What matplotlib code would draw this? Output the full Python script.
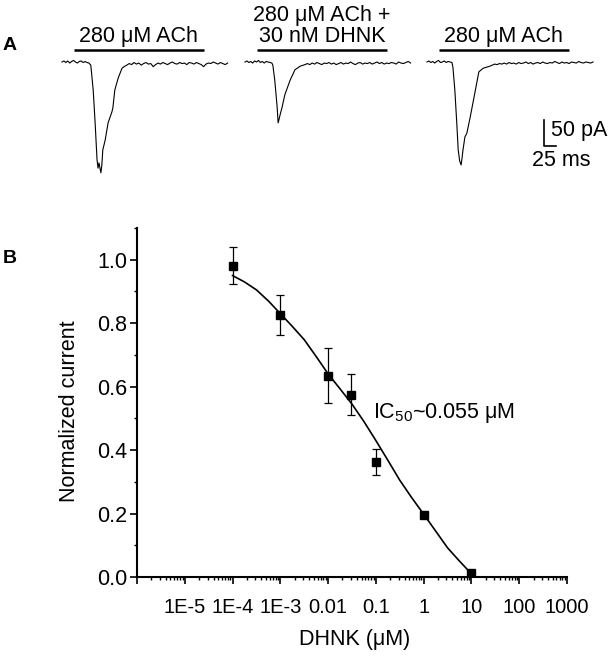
import numpy as np
import matplotlib.pyplot as plt
from matplotlib.ticker import FixedLocator, LogLocator, NullFormatter, MultipleLocator

plt.rcParams['font.family'] = ['Liberation Sans', 'DejaVu Sans']
plt.rcParams['mathtext.fontset'] = 'custom'
plt.rcParams['mathtext.rm'] = 'Liberation Sans'

# --- panel A: current traces (time in ms, current in pA, baseline = 0)
# each trace = baseline before / response / baseline after
ach1_pre = [0, 2, -1, 2, -2, 1, 3, 0, -2, 1, 2, -1, 1, -1, -2]            # every 4 ms from 0
ach1_t = [60, 65, 69, 73, 75, 77, 81, 83, 85, 90, 96, 104, 106, 110, 117, 125, 131]
ach1_i = [-6, -54, -117, -188, -204, -194, -213, -198, -169, -150, -117, -96, -88,
          -54, -31, -12, -8]
ach1_post = [-6, -3, -5, -1, -4, -2, -6, -3, -1, -4, -3, -9, -5, -2, -4, -1, -3, -5,
             -2, 0, -3, -4, -1, -3, -2, -5, -1, -2, -4, -1, -3, -5, -9, -4, -2, -3, 0,
             -2, -4, -1, -3, -5, -2]                                    # every 5 ms from 135

dhnk_pre = [0, 2, -1, 1, -2, 2, 0, 3, -1, 1, -2, 1, 0, -1]                # every 4 ms from 0
dhnk_t = [56, 58, 62, 67, 69, 71, 73, 77, 83, 94, 104, 115, 125]
dhnk_i = [-2, -6, -35, -87, -117, -110, -102, -88, -63, -35, -15, -8, -5]
dhnk_post = [-3, -5, -2, -4, -1, -3, -5, -2, -3, -1, -4, -2, -5, -3, -1, -4, -2, -3, 0,
             -3, -5, -2, -1, -4, -2, -3, -1, -4, -2, 0, -3, -1, -4, -2, -3, -1, -2, -4,
             0, -2, -3, -1, 1, -2]                                      # every 5 ms from 130

ach2_pre = [0, 2, -1, 1, -2, 1, 3, -1, 0, 2, -1, 1, 0]                    # every 4 ms from 0
ach2_t = [52, 54, 58, 62, 65, 68, 71, 73, 75, 79, 83, 90, 100, 108, 117, 131]
ach2_i = [-1, -10, -54, -117, -169, -190, -198, -185, -169, -144, -137, -106, -58,
          -19, -12, -8]
ach2_post = [-6, -4, -5, -3, -4, -2, -4, -1, -3, -2, -4, -1, -3, -2, 0, -3, -1, -4, -2,
             -1, -3, 0, -2, -3, -1, -2, 1, -1, -3, 0, -2, -1, -3, 0, -1, -2, 1, -1, -2,
             0, -1, -2, 0]                                              # every 5 ms from 136

trace_labels = ['280 μM ACh', '280 μM ACh +\n30 nM DHNK', '280 μM ACh']
app_start, app_end = 25, 295   # ms, application bar

# --- panel B: concentration-response
conc = [1e-4, 1e-3, 0.01, 0.03, 0.1, 1, 10]
norm_current = [0.981, 0.826, 0.634, 0.575, 0.363, 0.195, 0.012]
sem = [0.059, 0.063, 0.087, 0.065, 0.041, 0.006, 0.004]

fit_log_conc = [-4.0, -3.75, -3.5, -3.25, -3.0, -2.75, -2.5, -2.25, -2.0, -1.75, -1.5,
                -1.25, -1.0, -0.75, -0.5, -0.25, 0.0, 0.25, 0.5, 0.75, 1.0]
fit_current = [0.950, 0.930, 0.905, 0.870, 0.830, 0.790, 0.748, 0.695, 0.640, 0.593,
               0.545, 0.490, 0.430, 0.368, 0.305, 0.250, 0.198, 0.145, 0.092, 0.050, 0.010]

xtick_labels = ['', '1E-5', '1E-4', '1E-3', '0.01', '0.1', '1', '10', '100', '1000']


def build(pre, t, i, post, post_start):
    tt = np.concatenate([np.arange(len(pre)) * 4, t, post_start + np.arange(len(post)) * 5])
    ii = np.concatenate([pre, i, post])
    return tt, ii


traces = [build(ach1_pre, ach1_t, ach1_i, ach1_post, 135),
          build(dhnk_pre, dhnk_t, dhnk_i, dhnk_post, 130),
          build(ach2_pre, ach2_t, ach2_i, ach2_post, 136)]

W, H = 612, 657
fig = plt.figure(figsize=(W / 100, H / 100), dpi=100)

# panel A drawn in ms / pA units
ms_px = 25 / 12
pa_px = 50 / 26
axa = fig.add_axes([0, 1 - 190 / H, 1, 190 / H])
axa.set_xlim(0, W * ms_px)
axa.set_ylim(-(190 - 62) * pa_px, 62 * pa_px)
axa.axis('off')

offsets = [62 * ms_px, 245 * ms_px, 427 * ms_px]
for off, (t, i), lab in zip(offsets, traces, trace_labels):
    axa.plot(t + off, i, color='black', lw=0.8)
    axa.plot([off + app_start, off + app_end], [23, 23], color='black', lw=1.8,
             solid_capstyle='butt')
    axa.text(off + (app_start + app_end) / 2, 28, lab, ha='center', va='bottom',
             fontsize=15.5, linespacing=1.0)

# scale bar
sx = offsets[2] + 244
sy = -162
axa.plot([sx, sx, sx + 25], [sy + 50, sy, sy], color='black', lw=1.2)
axa.text(sx + 15, sy + 31, '50 pA', ha='left', va='center', fontsize=15.5)
axa.text(sx - 25, sy - 27, '25 ms', ha='left', va='center', fontsize=15.5)

fig.text(10 / W, 1 - 46 / H, 'A', ha='center', va='center', fontsize=14, weight='bold')
fig.text(10 / W, 1 - 259 / H, 'B', ha='center', va='center', fontsize=14, weight='bold')

# panel B
ax = fig.add_axes([137 / W, 1 - 577 / H, 430 / W, 349 / H])
ax.plot(10 ** np.array(fit_log_conc), fit_current, color='black', lw=1.2)
ax.errorbar(conc, norm_current, yerr=sem, fmt='s', color='black', ms=5.5,
            capsize=3, elinewidth=0.9, capthick=0.9)
ax.set_xscale('log')
ax.set_xlim(1e-6, 1e3)
ax.set_ylim(0, 1.1)
ax.xaxis.set_major_locator(FixedLocator(10.0 ** np.arange(-6, 4)))
ax.set_xticklabels(xtick_labels)
ax.xaxis.set_minor_locator(LogLocator(base=10, subs=np.arange(2, 10), numticks=20))
ax.xaxis.set_minor_formatter(NullFormatter())
ax.yaxis.set_major_locator(FixedLocator([0.0, 0.2, 0.4, 0.6, 0.8, 1.0]))
ax.yaxis.set_minor_locator(MultipleLocator(0.1))
ax.set_yticklabels(['0.0', '0.2', '0.4', '0.6', '0.8', '1.0'])
for s in ['top', 'right']:
    ax.spines[s].set_visible(False)
for s in ['left', 'bottom']:
    ax.spines[s].set_linewidth(1.5)
ax.tick_params(axis='both', which='major', direction='out', length=5, width=1.2)
ax.tick_params(axis='both', which='minor', direction='out', length=2.5, width=1.0)
ax.tick_params(axis='x', which='major', labelsize=14.5, pad=10)
ax.tick_params(axis='y', which='major', labelsize=15.5, pad=2)

ax.set_ylabel('Normalized current', fontsize=15.5)
ax.yaxis.set_label_coords(-0.133, 0.476)
ax.set_xlabel('DHNK (μM)', fontsize=15.5)
ax.xaxis.set_label_coords(0.507, -0.15)
ax.text(0.549, 0.47, 'IC$_{\\mathrm{50}}$~0.055 μM', transform=ax.transAxes,
        ha='left', va='center', fontsize=15.5)

fig.savefig('out.png', dpi=100)
